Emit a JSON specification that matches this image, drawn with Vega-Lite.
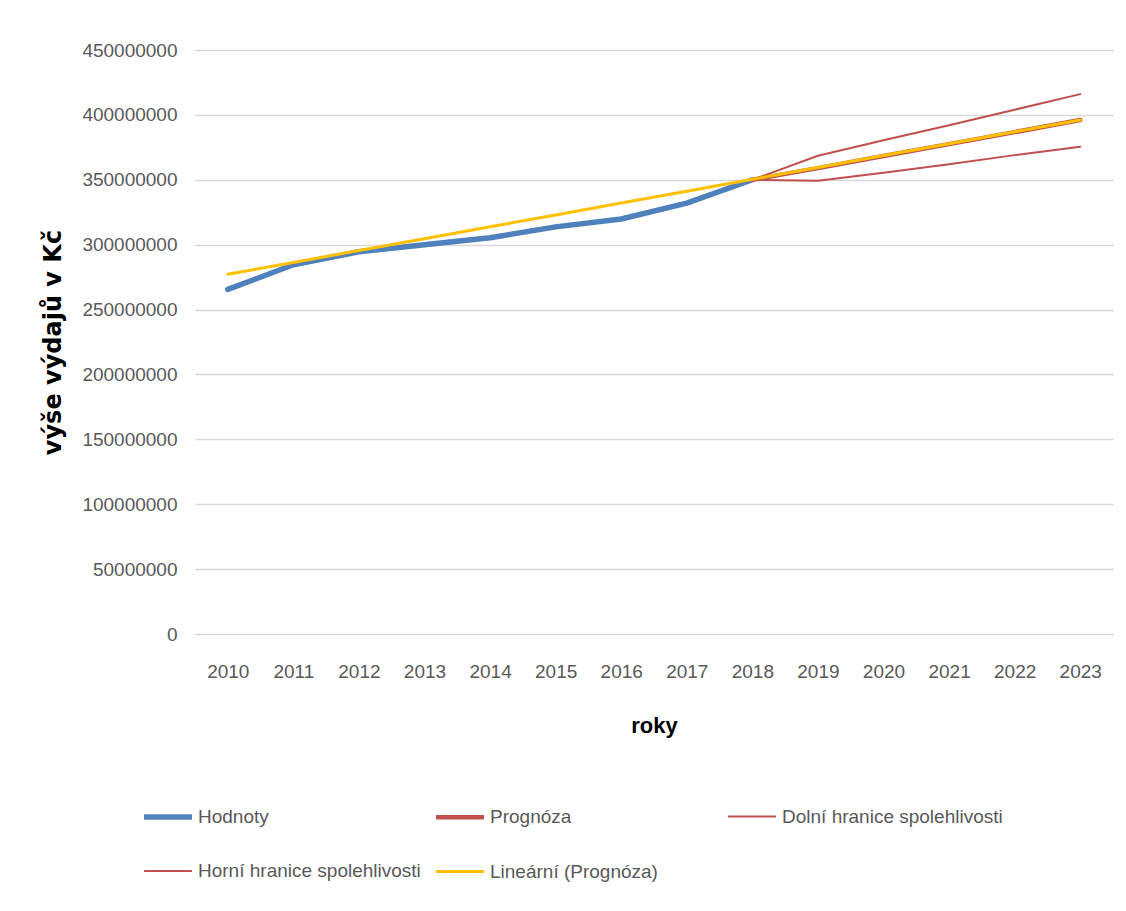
{
  "$schema": "https://vega.github.io/schema/vega-lite/v6.json",
  "autosize": {"type": "none"},
  "width": 918,
  "height": 584,
  "padding": {"left": 195, "top": 50, "right": 13, "bottom": 277},
  "background": "white",
  "config": {
    "view": {"stroke": null},
    "font": "Liberation Sans"
  },
  "data": {
    "values": [
      {"series": "Hodnoty", "year": 2010, "value": 265500000},
      {"series": "Hodnoty", "year": 2011, "value": 284500000},
      {"series": "Hodnoty", "year": 2012, "value": 294500000},
      {"series": "Hodnoty", "year": 2013, "value": 300000000},
      {"series": "Hodnoty", "year": 2014, "value": 305300000},
      {"series": "Hodnoty", "year": 2015, "value": 313700000},
      {"series": "Hodnoty", "year": 2016, "value": 319800000},
      {"series": "Hodnoty", "year": 2017, "value": 332000000},
      {"series": "Hodnoty", "year": 2018, "value": 350000000},
      {"series": "Prognóza", "year": 2018, "value": 350000000},
      {"series": "Prognóza", "year": 2019, "value": 359000000},
      {"series": "Prognóza", "year": 2020, "value": 368300000},
      {"series": "Prognóza", "year": 2021, "value": 377500000},
      {"series": "Prognóza", "year": 2022, "value": 386700000},
      {"series": "Prognóza", "year": 2023, "value": 396000000},
      {"series": "Dolní hranice spolehlivosti", "year": 2018, "value": 350000000},
      {"series": "Dolní hranice spolehlivosti", "year": 2019, "value": 349200000},
      {"series": "Dolní hranice spolehlivosti", "year": 2020, "value": 355500000},
      {"series": "Dolní hranice spolehlivosti", "year": 2021, "value": 362000000},
      {"series": "Dolní hranice spolehlivosti", "year": 2022, "value": 369000000},
      {"series": "Dolní hranice spolehlivosti", "year": 2023, "value": 375500000},
      {"series": "Horní hranice spolehlivosti", "year": 2018, "value": 350000000},
      {"series": "Horní hranice spolehlivosti", "year": 2019, "value": 368500000},
      {"series": "Horní hranice spolehlivosti", "year": 2020, "value": 380500000},
      {"series": "Horní hranice spolehlivosti", "year": 2021, "value": 392000000},
      {"series": "Horní hranice spolehlivosti", "year": 2022, "value": 404000000},
      {"series": "Horní hranice spolehlivosti", "year": 2023, "value": 416000000},
      {"series": "Lineární (Prognóza)", "year": 2010, "value": 277200000},
      {"series": "Lineární (Prognóza)", "year": 2011, "value": 286300000},
      {"series": "Lineární (Prognóza)", "year": 2012, "value": 295500000},
      {"series": "Lineární (Prognóza)", "year": 2013, "value": 304600000},
      {"series": "Lineární (Prognóza)", "year": 2014, "value": 313800000},
      {"series": "Lineární (Prognóza)", "year": 2015, "value": 322900000},
      {"series": "Lineární (Prognóza)", "year": 2016, "value": 332100000},
      {"series": "Lineární (Prognóza)", "year": 2017, "value": 341200000},
      {"series": "Lineární (Prognóza)", "year": 2018, "value": 350400000},
      {"series": "Lineární (Prognóza)", "year": 2019, "value": 359500000},
      {"series": "Lineární (Prognóza)", "year": 2020, "value": 368700000},
      {"series": "Lineární (Prognóza)", "year": 2021, "value": 377800000},
      {"series": "Lineární (Prognóza)", "year": 2022, "value": 387000000},
      {"series": "Lineární (Prognóza)", "year": 2023, "value": 396100000}
    ]
  },
  "mark": {"type": "line", "strokeCap": "round", "strokeJoin": "round"},
  "encoding": {
    "x": {
      "field": "year",
      "type": "ordinal",
      "scale": {"type": "point", "padding": 0.5},
      "axis": {
        "title": "roky",
        "titleFont": "Liberation Sans",
        "titleFontSize": 22,
        "titleFontWeight": "bold",
        "titleColor": "#000000",
        "titlePadding": 34,
        "labelAngle": 0,
        "labelFontSize": 19,
        "labelColor": "#595959",
        "labelPadding": 28,
        "ticks": false,
        "domain": false,
        "grid": false
      }
    },
    "y": {
      "field": "value",
      "type": "quantitative",
      "scale": {"domain": [0, 450000000], "nice": false},
      "axis": {
        "title": "výše výdajů v Kč",
        "titleFont": "DejaVu Sans",
        "titleFontSize": 24,
        "titleFontWeight": "bold",
        "titleColor": "#000000",
        "titlePadding": 16,
        "values": [0, 50000000, 100000000, 150000000, 200000000, 250000000, 300000000, 350000000, 400000000, 450000000],
        "format": "d",
        "labelFontSize": 19,
        "labelColor": "#595959",
        "labelPadding": 18,
        "ticks": false,
        "domain": false,
        "grid": true,
        "gridColor": "#D9D9D9",
        "gridWidth": 1.5
      }
    },
    "color": {
      "field": "series",
      "type": "nominal",
      "sort": null,
      "scale": {
        "domain": ["Hodnoty", "Prognóza", "Dolní hranice spolehlivosti", "Horní hranice spolehlivosti", "Lineární (Prognóza)"],
        "range": ["#4F81BD", "#C0504D", "#C0504D", "#C0504D", "#FFC000"]
      },
      "legend": {
        "title": null,
        "orient": "none",
        "legendX": -54,
        "legendY": 740,
        "direction": "horizontal",
        "columns": 3,
        "gridAlign": "all",
        "columnPadding": 6,
        "rowPadding": 18,
        "symbolType": "stroke",
        "symbolSize": 2300,
        "symbolOffset": 0,
        "labelOffset": 3,
        "labelFontSize": 19,
        "labelColor": "#595959",
        "labelLimit": 400,
        "encode": {
          "symbols": {"update": {"strokeWidth": {"scale": "strokeWidth", "field": "value"}}}
        }
      }
    },
    "strokeWidth": {
      "field": "series",
      "type": "nominal",
      "sort": null,
      "scale": {
        "type": "ordinal",
        "domain": ["Hodnoty", "Prognóza", "Dolní hranice spolehlivosti", "Horní hranice spolehlivosti", "Lineární (Prognóza)"],
        "range": [5.5, 4.5, 2, 2, 3]
      },
      "legend": null
    }
  }
}
